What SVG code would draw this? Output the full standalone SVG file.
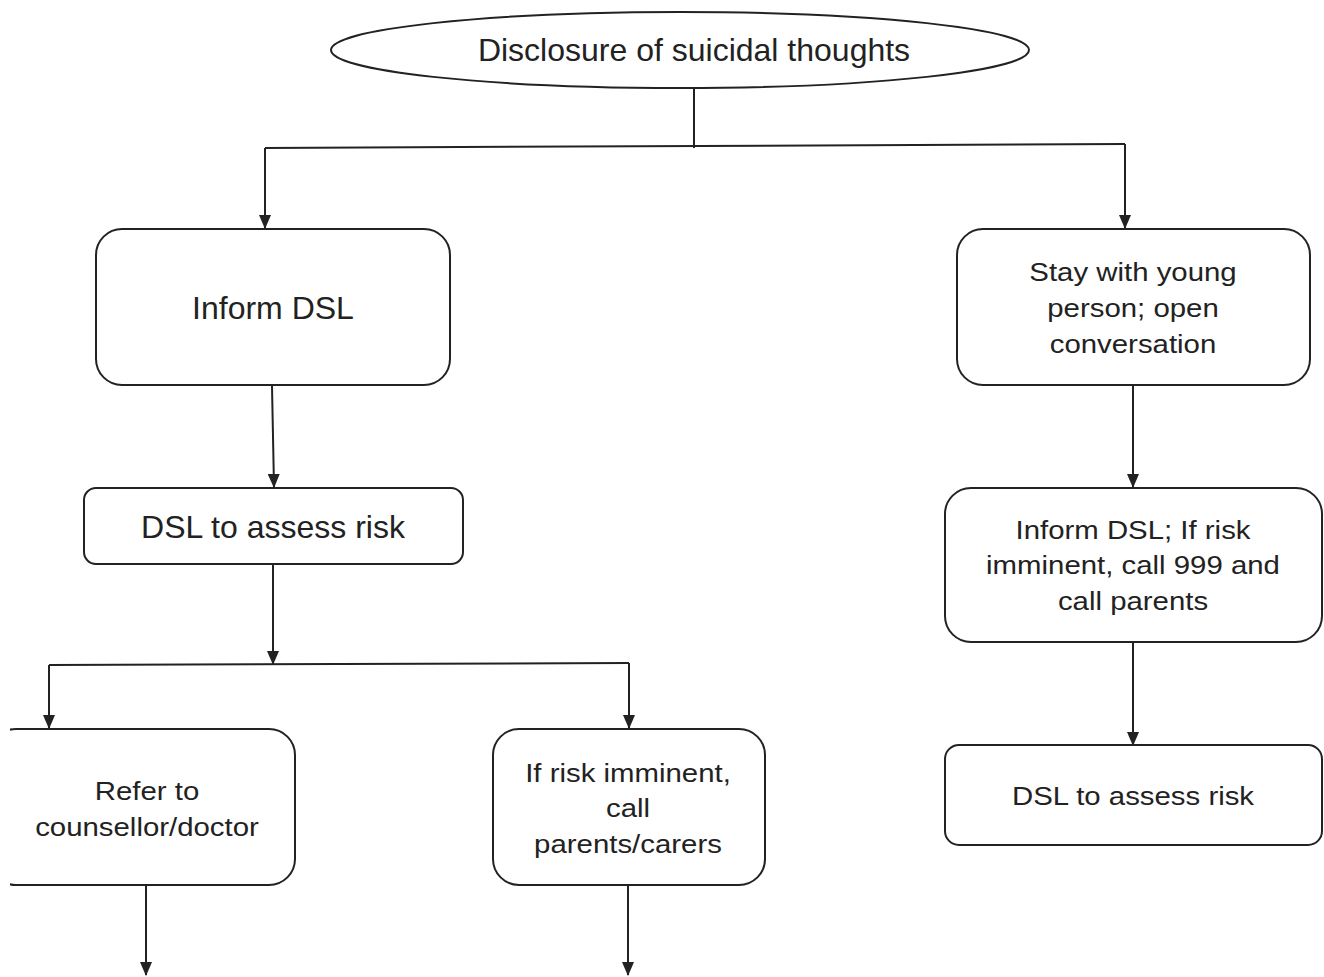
<svg xmlns="http://www.w3.org/2000/svg" width="1324" height="977" viewBox="0 0 1324 977">
<style>
.n{fill:#fff;stroke:#222;stroke-width:2}
.t{font-family:"Liberation Sans",Arial,sans-serif;font-size:26px;fill:#222;text-anchor:middle}
.b{font-size:32px}
.c{fill:none;stroke:#222;stroke-width:2}
</style>
<defs>
<marker id="arr" markerWidth="14" markerHeight="12" refX="13" refY="6" orient="auto" markerUnits="userSpaceOnUse" viewBox="0 0 14 12">
<path d="M0,0 L14,6 L0,12 Z" fill="#222"/>
</marker>
<clipPath id="clipL"><rect x="10" y="700" width="400" height="250"/></clipPath>
</defs>
<rect width="1324" height="977" fill="#fff"/>
<g id="connectors">
<path class="c" d="M694,88 V148"/>
<path class="c" d="M265,148 L1125,144"/>
<path class="c" d="M265,148 V228" marker-end="url(#arr)"/>
<path class="c" d="M1125,144 V228" marker-end="url(#arr)"/>
<path class="c" d="M272,386 L274,487" marker-end="url(#arr)"/>
<path class="c" d="M273,564 V664" marker-end="url(#arr)"/>
<path class="c" d="M49,665 L629,663"/>
<path class="c" d="M49,665 V728" marker-end="url(#arr)"/>
<path class="c" d="M629,663 V728" marker-end="url(#arr)"/>
<path class="c" d="M146,885 V975" marker-end="url(#arr)"/>
<path class="c" d="M628,885 V975" marker-end="url(#arr)"/>
<path class="c" d="M1133,386 V487" marker-end="url(#arr)"/>
<path class="c" d="M1133,642 V745" marker-end="url(#arr)"/>
</g>
<g id="start">
<ellipse class="n" cx="680" cy="50" rx="349" ry="38"/>
<text class="t b" x="694" y="61">Disclosure of suicidal thoughts</text>
</g>
<g id="inform-dsl">
<rect class="n" x="96" y="229" width="354" height="156" rx="26"/>
<text class="t b" x="273" y="319">Inform DSL</text>
</g>
<g id="assess-left">
<rect class="n" x="84" y="488" width="379" height="76" rx="12"/>
<text class="t b" x="273" y="538">DSL to assess risk</text>
</g>
<g id="refer" clip-path="url(#clipL)">
<rect class="n" x="-10" y="729" width="305" height="156" rx="26"/>
<text class="t" transform="translate(147 0) scale(1.13 1)" x="0" y="800">Refer to</text>
<text class="t" transform="translate(147 0) scale(1.13 1)" x="0" y="836">counsellor/doctor</text>
</g>
<g id="call-parents">
<rect class="n" x="493" y="729" width="272" height="156" rx="26"/>
<text class="t" transform="translate(628 0) scale(1.13 1)" x="0" y="782">If risk imminent,</text>
<text class="t" transform="translate(628 0) scale(1.13 1)" x="0" y="817">call</text>
<text class="t" transform="translate(628 0) scale(1.13 1)" x="0" y="853">parents/carers</text>
</g>
<g id="stay">
<rect class="n" x="957" y="229" width="353" height="156" rx="26"/>
<text class="t" transform="translate(1133 0) scale(1.13 1)" x="0" y="281">Stay with young</text>
<text class="t" transform="translate(1133 0) scale(1.13 1)" x="0" y="317">person; open</text>
<text class="t" transform="translate(1133 0) scale(1.13 1)" x="0" y="353">conversation</text>
</g>
<g id="inform-right">
<rect class="n" x="945" y="488" width="377" height="154" rx="26"/>
<text class="t" transform="translate(1133 0) scale(1.13 1)" x="0" y="539">Inform DSL; If risk</text>
<text class="t" transform="translate(1133 0) scale(1.13 1)" x="0" y="574">imminent, call 999 and</text>
<text class="t" transform="translate(1133 0) scale(1.13 1)" x="0" y="610">call parents</text>
</g>
<g id="assess-right">
<rect class="n" x="945" y="745" width="377" height="100" rx="14"/>
<text class="t" transform="translate(1133 0) scale(1.13 1)" x="0" y="805">DSL to assess risk</text>
</g>
</svg>
